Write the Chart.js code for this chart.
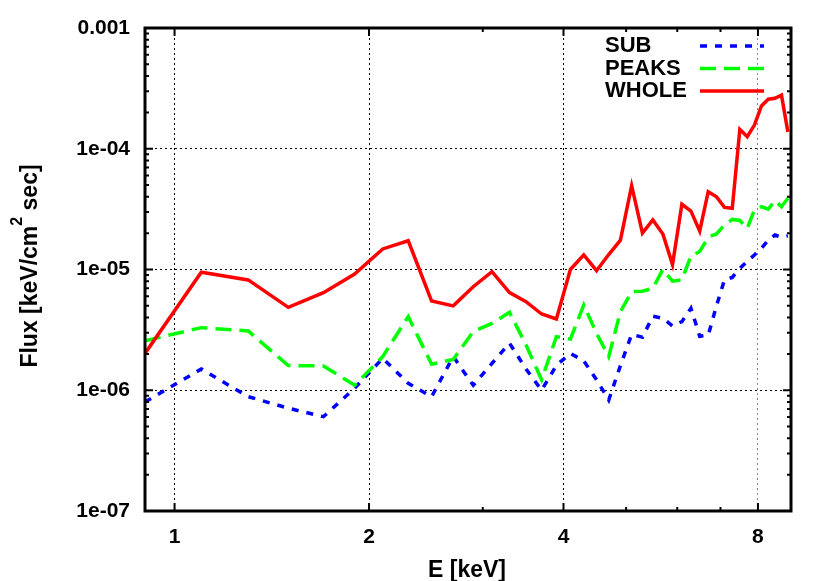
<!DOCTYPE html>
<html>
<head>
<meta charset="utf-8">
<script src="https://cdn.jsdelivr.net/npm/chart.js@4"></script>
<style>
  body { margin: 0; background: #fff; }
  canvas { display: block; }
</style>
</head>
<body>
<canvas id="myChart" width="830" height="581"></canvas>
<script>
// energies (keV)
const energy = [0.9, 1.1, 1.3, 1.5, 1.7, 1.9, 2.1, 2.3, 2.5, 2.7, 2.9, 3.1, 3.3, 3.5,
  3.7, 3.9, 4.1, 4.3, 4.5, 4.7, 4.9, 5.1, 5.3, 5.5, 5.7, 5.9, 6.1, 6.3, 6.5, 6.7,
  6.9, 7.1, 7.3, 7.5, 7.7, 7.9, 8.1, 8.3, 8.5, 8.7, 8.9];

const sub = [8.0e-7, 1.5e-6, 8.85e-7, 7.1e-7, 6.04e-7, 1.04e-6, 1.84e-6, 1.14e-6, 8.85e-7,
  1.9e-6, 1.1e-6, 1.67e-6, 2.45e-6, 1.5e-6, 1.0e-6, 1.61e-6, 2.02e-6, 1.75e-6, 1.22e-6,
  8.3e-7, 1.6e-6, 2.9e-6, 2.75e-6, 4.1e-6, 3.95e-6, 3.4e-6, 3.7e-6, 4.78e-6, 2.8e-6,
  2.85e-6, 5.0e-6, 8.2e-6, 8.6e-6, 1.02e-5, 1.17e-5, 1.32e-5, 1.5e-5, 1.75e-5, 1.93e-5,
  1.85e-5, 1.9e-5];

const peaks = [2.57e-6, 3.3e-6, 3.1e-6, 1.6e-6, 1.59e-6, 1.1e-6, 1.9e-6, 4.07e-6, 1.64e-6,
  1.8e-6, 3.06e-6, 3.58e-6, 4.42e-6, 2.37e-6, 1.22e-6, 2.78e-6, 2.65e-6, 5.08e-6, 2.96e-6,
  1.9e-6, 4.47e-6, 6.55e-6, 6.6e-6, 7.0e-6, 1.0e-5, 8.0e-6, 8.2e-6, 1.29e-5, 1.41e-5,
  1.85e-5, 1.97e-5, 2.34e-5, 2.6e-5, 2.55e-5, 2.19e-5, 3.11e-5, 3.31e-5, 3.16e-5, 3.72e-5,
  3.31e-5, 3.89e-5];

const whole = [2.02e-6, 9.5e-6, 8.2e-6, 4.86e-6, 6.43e-6, 9.18e-6, 1.48e-5, 1.73e-5, 5.48e-6,
  5.0e-6, 7.2e-6, 9.6e-6, 6.43e-6, 5.42e-6, 4.28e-6, 3.89e-6, 1.0e-5, 1.32e-5, 9.77e-6,
  1.33e-5, 1.75e-5, 4.94e-5, 2.0e-5, 2.57e-5, 1.97e-5, 1.10e-5, 3.47e-5, 3.05e-5, 2.08e-5,
  4.41e-5, 4.0e-5, 3.27e-5, 3.21e-5, 1.45e-4, 1.26e-4, 1.57e-4, 2.26e-4, 2.57e-4, 2.62e-4,
  2.78e-4, 1.38e-4];

const xTicks = [1, 2, 4, 8];
const xMinorTicks = [3, 5, 6, 7];
const yTicks = [1e-7, 1e-6, 1e-5, 1e-4, 1e-3];
const yTickLabels = ['1e-07', '1e-06', '1e-05', '1e-04', '0.001'];

const pts = arr => energy.map((e, i) => ({ x: e, y: arr[i] }));

// gnuplot-like frame: inner ticks, border, key, axis titles
const gnuFrame = {
  id: 'gnuFrame',
  afterDatasetsDraw(chart) {
    const { ctx, chartArea: a, scales: { x, y } } = chart;
    ctx.save();
    ctx.strokeStyle = '#000';
    ctx.lineWidth = 2;
    ctx.setLineDash([]);
    ctx.beginPath();
    xTicks.concat(xMinorTicks).forEach(v => {
      const len = xTicks.includes(v) ? 8 : 4;
      const px = x.getPixelForValue(v);
      ctx.moveTo(px, a.bottom); ctx.lineTo(px, a.bottom - len);
      ctx.moveTo(px, a.top); ctx.lineTo(px, a.top + len);
    });
    for (let d = -7; d < -3; d++) {
      for (let m = 1; m <= 10; m++) {
        const v = m * Math.pow(10, d);
        const len = (m === 1 || m === 10) ? 8 : 4;
        const py = y.getPixelForValue(v);
        ctx.moveTo(a.left, py); ctx.lineTo(a.left + len, py);
        ctx.moveTo(a.right, py); ctx.lineTo(a.right - len, py);
      }
    }
    ctx.stroke();
    ctx.lineWidth = 3;
    ctx.strokeRect(a.left, a.top, a.right - a.left, a.bottom - a.top);

    // key
    ctx.font = 'bold 22px "Liberation Sans", Arial, sans-serif';
    ctx.fillStyle = '#000';
    ctx.textAlign = 'left';
    ctx.textBaseline = 'middle';
    const keyOrder = ['SUB', 'PEAKS', 'WHOLE'];
    keyOrder.forEach((lab, i) => {
      const ds = chart.data.datasets.find(d => d.label === lab);
      const ky = 46 + i * 22.5;
      ctx.fillText(lab, 605, ky);
      ctx.strokeStyle = ds.borderColor;
      ctx.lineWidth = ds.borderWidth;
      ctx.setLineDash(ds.borderDash || []);
      ctx.beginPath();
      ctx.moveTo(700, ky); ctx.lineTo(764, ky);
      ctx.stroke();
    });
    ctx.setLineDash([]);

    // x title
    ctx.font = 'bold 23px "Liberation Sans", Arial, sans-serif';
    ctx.textAlign = 'center';
    ctx.textBaseline = 'middle';
    ctx.fillText('E [keV]', 467, 571);

    // y title with superscript
    const f1 = 'bold 23px "Liberation Sans", Arial, sans-serif';
    const f2 = 'bold 16px "Liberation Sans", Arial, sans-serif';
    const p1 = 'Flux [keV/cm', p2 = '2', p3 = ' sec]';
    ctx.font = f1; const w1 = ctx.measureText(p1).width, w3 = ctx.measureText(p3).width;
    ctx.font = f2; const w2 = ctx.measureText(p2).width;
    const tot = w1 + w2 + w3;
    ctx.translate(27, 266);
    ctx.rotate(-Math.PI / 2);
    ctx.textAlign = 'left';
    ctx.textBaseline = 'alphabetic';
    let sx = -tot / 2;
    ctx.font = f1; ctx.fillText(p1, sx, 9.5); sx += w1;
    ctx.font = f2; ctx.fillText(p2, sx, -5.5); sx += w2;
    ctx.font = f1; ctx.fillText(p3, sx, 9.5);
    ctx.restore();
  }
};

const tickFont = { family: '"Liberation Sans", Arial, sans-serif', size: 21, weight: 'bold' };

const config = {
  type: 'line',
  data: {
    datasets: [
      {
        label: 'WHOLE', data: pts(whole), borderColor: '#ff0000', borderWidth: 3.5,
        pointRadius: 0, tension: 0, fill: false
      },
      {
        label: 'PEAKS', data: pts(peaks), borderColor: '#00ff00', borderWidth: 3.5,
        borderDash: [16, 8], pointRadius: 0, tension: 0, fill: false
      },
      {
        label: 'SUB', data: pts(sub), borderColor: '#0000ff', borderWidth: 3.5,
        borderDash: [7, 8], pointRadius: 0, tension: 0, fill: false
      }
    ]
  },
  options: {
    responsive: false,
    animation: false,
    layout: { padding: { top: 28, right: 39, left: 0, bottom: 0 } },
    plugins: { legend: { display: false }, tooltip: { enabled: false } },
    scales: {
      x: {
        type: 'logarithmic', min: 0.9, max: 9,
        afterBuildTicks: s => { s.ticks = xTicks.map(v => ({ value: v })); },
        afterFit: s => { s.height = 70; },
        ticks: {
          color: '#000', font: tickFont, padding: 14, maxRotation: 0, autoSkip: false,
          callback: v => String(v)
        },
        grid: {
          drawTicks: false, lineWidth: 1,
          color: c => (c.tick && c.tick.value === 8) ? '#888' : '#000'
        },
        border: { display: false, dash: [2, 3] }
      },
      y: {
        type: 'logarithmic', min: 1e-7, max: 1e-3,
        afterBuildTicks: s => { s.ticks = yTicks.map(v => ({ value: v })); },
        afterFit: s => { s.width = 145; },
        ticks: {
          color: '#000', font: tickFont, padding: 15, autoSkip: false,
          callback: v => yTickLabels[yTicks.indexOf(v)]
        },
        grid: { drawTicks: false, lineWidth: 1, color: '#000' },
        border: { display: false, dash: [2, 3] }
      }
    }
  },
  plugins: [gnuFrame]
};

const myChart = new Chart(document.getElementById('myChart'), config);
</script>
</body>
</html>
